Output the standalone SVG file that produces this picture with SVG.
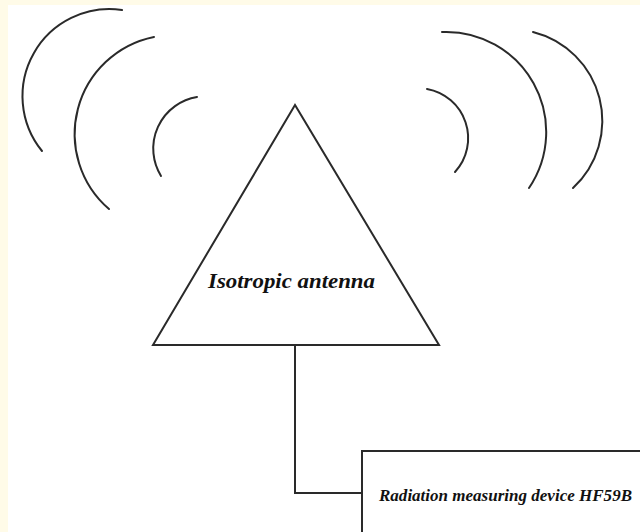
<svg xmlns="http://www.w3.org/2000/svg" width="640" height="532" viewBox="0 0 640 532">
<style>
.wave{fill:none;stroke:#2a2a2a;stroke-width:2;stroke-linecap:round}
.shape{fill:#ffffff;stroke:#2a2a2a;stroke-width:2}
.conn{fill:none;stroke:#2a2a2a;stroke-width:2}
.lbl{font-family:"Liberation Serif","DejaVu Serif",serif;font-weight:bold;font-style:italic;fill:#111}
</style>
<rect x="0" y="0" width="640" height="532" fill="#fffbe8"/>
<rect x="8" y="5" width="632" height="527" fill="#ffffff"/>
<g id="waves">
<path class="wave" d="M122,10 A87,87 0 0 0 42,151"/>
<path class="wave" d="M154,37 A99,99 0 0 0 109,209"/>
<path class="wave" d="M197,97 A52.3,52.3 0 0 0 161,176"/>
<path class="wave" d="M427,89 A50,50 0 0 1 455,172"/>
<path class="wave" d="M442,32 A100,100 0 0 1 529,188"/>
<path class="wave" d="M533,32 A91.6,91.6 0 0 1 573,188"/>
</g>
<g id="connectors">
<polyline class="conn" points="295,345 295,493 362,493"/>
</g>
<g id="antenna">
<polygon class="shape" points="295,105 153,345 439,345"/>
<text class="lbl" x="208" y="288" font-size="22" textLength="167" lengthAdjust="spacingAndGlyphs">Isotropic antenna</text>
</g>
<g id="device">
<rect class="shape" x="362" y="451" width="300" height="100"/>
<text class="lbl" x="379" y="501" font-size="16" textLength="253" lengthAdjust="spacingAndGlyphs">Radiation measuring device HF59B</text>
</g>
</svg>
